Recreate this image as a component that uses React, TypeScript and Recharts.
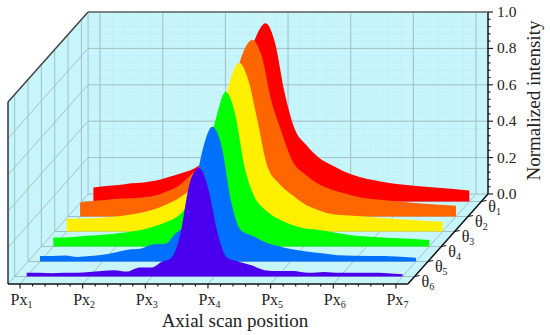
import React from "react";
import { ComposedChart, Area, XAxis, YAxis, ReferenceLine, ReferenceDot } from "recharts";

const positions = [0, 0.2, 0.4, 0.6, 0.8, 1, 1.2, 1.4, 1.6, 1.8, 2, 2.15, 2.3, 2.45, 2.6, 2.75, 2.9, 3.05, 3.2, 3.4, 3.6, 3.8, 4, 4.25, 4.5, 4.75, 5, 5.5, 6];
const theta1 = [0.077, 0.085, 0.09, 0.1, 0.105, 0.115, 0.135, 0.155, 0.18, 0.23, 0.32, 0.42, 0.56, 0.75, 0.91, 0.98, 0.87, 0.6, 0.41, 0.31, 0.24, 0.2, 0.165, 0.135, 0.115, 0.1, 0.09, 0.075, 0.06];
const theta2 = [0.077, 0.085, 0.09, 0.097, 0.1, 0.105, 0.115, 0.14, 0.175, 0.24, 0.31, 0.39, 0.52, 0.72, 0.9, 0.97, 0.88, 0.64, 0.48, 0.3, 0.23, 0.18, 0.15, 0.125, 0.103, 0.093, 0.085, 0.07, 0.059];
const theta3 = [0.07, 0.07, 0.073, 0.077, 0.082, 0.092, 0.105, 0.122, 0.15, 0.185, 0.24, 0.31, 0.43, 0.6, 0.82, 0.927, 0.83, 0.6, 0.36, 0.26, 0.2, 0.15, 0.12, 0.095, 0.088, 0.082, 0.075, 0.063, 0.053];
const theta4 = [0.05, 0.05, 0.055, 0.06, 0.065, 0.072, 0.08, 0.09, 0.11, 0.135, 0.17, 0.23, 0.33, 0.5, 0.71, 0.85, 0.73, 0.44, 0.28, 0.195, 0.15, 0.12, 0.1, 0.09, 0.075, 0.062, 0.055, 0.045, 0.036];
const theta5 = [0.03, 0.03, 0.033, 0.025, 0.03, 0.037, 0.05, 0.065, 0.07, 0.095, 0.097, 0.15, 0.2, 0.37, 0.62, 0.74, 0.63, 0.33, 0.175, 0.14, 0.105, 0.085, 0.068, 0.055, 0.045, 0.035, 0.032, 0.03, 0.02];
const theta6 = [0.02, 0.02, 0.018, 0.02, 0.02, 0.025, 0.03, 0.035, 0.027, 0.05, 0.05, 0.08, 0.1, 0.23, 0.51, 0.597, 0.48, 0.235, 0.103, 0.08, 0.06, 0.035, 0.03, 0.03, 0.02, 0.025, 0.02, 0.02, 0.012];

const seriesValues = [theta1, theta2, theta3, theta4, theta5, theta6];
const seriesColors = ["#ff0000", "#ff6600", "#fff000", "#00ff00", "#0070ff", "#4a00ee"];
const thetaDepths = [82.5, 67.5, 52.5, 37.5, 22.5, 7.5].map((v) => v / 90);
const thetaNames = ["1", "2", "3", "4", "5", "6"];
const pxTicks = [0, 1, 2, 3, 4, 5, 6];
const intensityTicks = [0, 0.2, 0.4, 0.6, 0.8, 1];

// oblique projection, in data units
const DX = 80 / 62.6;
const DY = 90 / 182;
const XMIN = -12 / 62.6;
const XFRONT = 6 - XMIN;
const XMAX = XFRONT + DX;
const YMAX = 1 + DY;

const WALL = "#c6f6fc";
const GRID = "#a4bfc4";
const MINOR = "#bde6ee";
const FONT = "'Liberation Serif', 'Times New Roman', serif";
const TEXT = "#222";

const leftWall = [
  { x: XMIN, band: [0, 1] },
  { x: XMIN + DX, band: [DY, YMAX] },
];
const backWall = [
  { x: XMIN + DX, band: [DY, YMAX] },
  { x: XMAX, band: [DY, YMAX] },
];
const floor = [
  { x: XMIN, band: [0, 0] },
  { x: XMIN + DX, band: [0, DY] },
  { x: XFRONT, band: [0, DY] },
  { x: XMAX, band: [DY, DY] },
];

const xTickValues: number[] = [];
for (let i = 0; i <= 30; i++) xTickValues.push(Number((i * 0.2).toFixed(1)));
const yTickValues: number[] = [];
for (let i = 0; i <= 25; i++) yTickValues.push(Number((i * 0.04).toFixed(2)) + DY);

function XTick({ x, y, payload }: any) {
  const major = Math.abs(payload.value - Math.round(payload.value)) < 1e-6;
  return (
    <g>
      <line x1={x} x2={x} y1={y} y2={y + (major ? 4.5 : 2.5)} stroke="#111" strokeWidth={1.1} />
      {major && (
        <text x={x + 1.5} y={y + 20.5} textAnchor="middle" fontFamily={FONT} fontSize={16} fill={TEXT}>
          Px<tspan dy={3} fontSize={10}>{Math.round(payload.value) + 1}</tspan>
        </text>
      )}
    </g>
  );
}

function YTick({ x, y, payload }: any) {
  const v = payload.value - DY;
  const major = Math.abs(v * 5 - Math.round(v * 5)) < 1e-6;
  return (
    <g>
      <line x1={x} x2={x + (major ? 5 : 2.5)} y1={y} y2={y} stroke="#111" strokeWidth={1.1} />
      {major && (
        <text x={x + 9} y={y + 5} fontFamily={FONT} fontSize={15.5} fill={TEXT}>
          {v.toFixed(1)}
        </text>
      )}
    </g>
  );
}

function seg(x1: number, y1: number, x2: number, y2: number, stroke: string, strokeWidth: number, key: string, opacity = 1, z = 50) {
  return (
    <ReferenceLine
      key={key}
      segment={[{ x: x1, y: y1 }, { x: x2, y: y2 }]}
      stroke={stroke}
      strokeWidth={strokeWidth}
      strokeOpacity={opacity}
      ifOverflow="visible"
      zIndex={z}
    />
  );
}

const minorSteps: number[] = [];
for (let i = 0; i <= 32; i++) minorSteps.push(DX + i * 0.2);

export default function App() {
  return (
    <div style={{ position: "absolute", left: 0, top: 0, width: 550, height: 335, background: "#fff" }}>
      <ComposedChart width={550} height={335} margin={{ top: 12, right: 0, bottom: 0, left: 8 }}>
        <XAxis
          type="number"
          dataKey="x"
          domain={[XMIN, XMAX]}
          ticks={xTickValues}
          interval={0}
          allowDataOverflow
          axisLine={false}
          tickLine={false}
          tickSize={0}
          tickMargin={0}
          height={51}
          tick={<XTick />}
          label={{ value: "Axial scan position", position: "center", dx: -13, dy: 11, fontFamily: FONT, fontSize: 19, fill: TEXT }}
        />
        <YAxis
          type="number"
          orientation="right"
          domain={[0, YMAX]}
          ticks={yTickValues}
          interval={0}
          allowDataOverflow
          axisLine={false}
          tickLine={false}
          tickSize={0}
          tickMargin={0}
          width={62}
          tick={<YTick />}
          label={{ value: "Normalized intensity", position: "center", angle: -90, dx: 14, dy: -47.5, fontFamily: FONT, fontSize: 19, fill: TEXT }}
        />

        <Area zIndex={10} data={backWall} dataKey="band" type="linear" stroke="none" fill={WALL} fillOpacity={1} isAnimationActive={false} dot={false} activeDot={false} />
        <Area zIndex={10} data={leftWall} dataKey="band" type="linear" stroke="none" fill={WALL} fillOpacity={1} isAnimationActive={false} dot={false} activeDot={false} />
        <Area zIndex={10} data={floor} dataKey="band" type="linear" stroke="none" fill={WALL} fillOpacity={1} isAnimationActive={false} dot={false} activeDot={false} />

        {minorSteps.filter((x) => x < XMAX).map((x, i) => seg(x, DY, x, YMAX, MINOR, 0.7, `mv${i}`, 0.6, 20))}
        {Array.from({ length: 26 }, (_, i) => i * 0.04).map((v, i) => seg(XMIN + DX, v + DY, XMAX, v + DY, MINOR, 0.7, `mh${i}`, 0.6, 20))}

        {pxTicks.map((p) => seg(p + DX, DY, p + DX, YMAX, GRID, 1, `bv${p}`))}
        {intensityTicks.map((v) => seg(XMIN + DX, v + DY, XMAX, v + DY, GRID, 1, `bh${v}`))}
        {pxTicks.map((p) => seg(p, 0, p + DX, DY, GRID, 1, `fd${p}`))}
        {thetaDepths.map((d, i) => seg(XMIN + d * DX, d * DY, XFRONT + d * DX, d * DY, GRID, 1, `fh${i}`))}
        {thetaDepths.map((d, i) => seg(XMIN + d * DX, d * DY, XMIN + d * DX, 1 + d * DY, GRID, 1, `lv${i}`))}
        {intensityTicks.map((v) => seg(XMIN, v, XMIN + DX, v + DY, GRID, 1, `ld${v}`))}
        {seg(XMIN + DX, DY, XMIN + DX, YMAX, GRID, 1, "backleft")}
        {seg(XFRONT + DX, DY, XFRONT + DX, YMAX, "#111", 1.5, "yaxis", 1, 300)}
        {seg(XMIN + DX, YMAX, XMAX, YMAX, "#666", 1.5, "topedge", 1, 300)}
        {seg(XMIN, 1, XMIN + DX, YMAX, "#444", 1.5, "topdiag", 1, 300)}
        {seg(XMIN, 0, XMIN, 1, "#333", 1.5, "leftedge", 1, 300)}
        {seg(XMIN, 0, XFRONT, 0, "#111", 1.5, "xaxis", 1, 300)}
        {seg(XFRONT, 0, XMAX, DY, "#111", 1.5, "zaxis", 1, 300)}

        {seriesValues.map((vals, s) => {
          const d = thetaDepths[s];
          const rows = positions.map((p, i) => ({ x: p + d * DX, band: [d * DY, vals[i] + d * DY] }));
          return (
            <Area
              key={s}
              zIndex={100 + s}
              data={rows}
              dataKey="band"
              type="monotone"
              stroke="none"
              fill={seriesColors[s]}
              fillOpacity={1}
              isAnimationActive={false}
              dot={false}
              activeDot={false}
            />
          );
        })}

        {thetaDepths.map((d, i) => (
          <ReferenceDot
            key={`t${i}`}
            x={XFRONT + d * DX}
            y={d * DY}
            ifOverflow="visible"
            shape={({ cx, cy }: any) => (
              <g>
                <line x1={cx} x2={cx + 5} y1={cy} y2={cy - 1} stroke="#111" strokeWidth={1.1} />
                <text x={cx + 7} y={cy + 10} fontFamily={FONT} fontSize={16} fill={TEXT}>
                  θ<tspan dy={3.5} fontSize={10}>{thetaNames[i]}</tspan>
                </text>
              </g>
            )}
          />
        ))}
      </ComposedChart>
    </div>
  );
}
